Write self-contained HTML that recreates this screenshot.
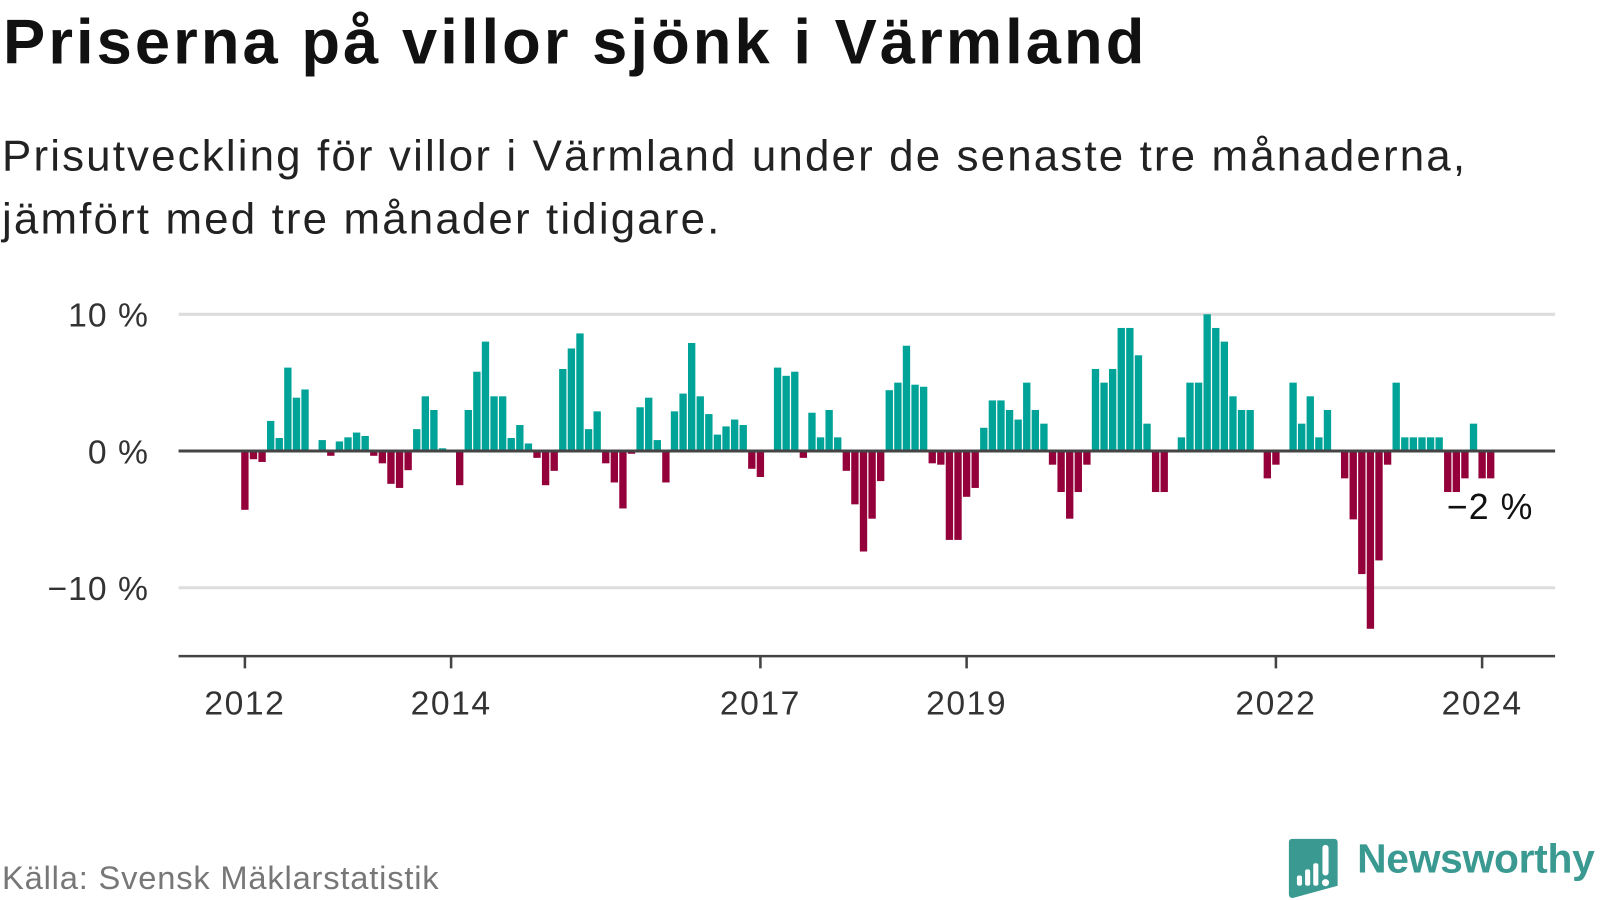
<!DOCTYPE html>
<html><head><meta charset="utf-8"><style>
body{margin:0;width:1600px;height:900px;background:#fff;font-family:"Liberation Sans","DejaVu Sans",sans-serif;overflow:hidden;position:relative}
#wrap{position:absolute;left:0;top:0;width:1568px;height:882px;transform:scale(1.0204);transform-origin:0 0}
#title{position:absolute;left:3px;top:6px;font-size:62px;font-weight:bold;color:#111;letter-spacing:3px;white-space:nowrap}
#sub{position:absolute;left:2px;top:122px;font-size:43px;line-height:62px;color:#222;letter-spacing:2.1px;white-space:nowrap}
#src{position:absolute;left:2px;top:842px;font-size:32px;color:#777;letter-spacing:0.8px;white-space:nowrap}
#logo{position:absolute;left:1330px;top:820px;font-size:40px;font-weight:bold;color:#3a9a92;letter-spacing:-0.3px;white-space:nowrap}
</style></head><body>
<div id="wrap">
<div id="title">Priserna på villor sjönk i Värmland</div>
<div id="sub">Prisutveckling för villor i Värmland under de senaste tre månaderna,<br>jämfört med tre månader tidigare.</div>
<svg id="chart" width="1568" height="882" style="position:absolute;left:0;top:0"></svg>
<div id="src">Källa: Svensk Mäklarstatistik</div>
<svg width="48" height="60" style="position:absolute;left:1263px;top:822px" viewBox="0 0 48 60">
<path d="M4 0H44Q48 0 48 4V46L4 58Q0 58 0 54V4Q0 0 4 0Z" fill="#3a9a92"/>
<rect x="8" y="36" width="5" height="10" rx="2" fill="#fff"/><rect x="16" y="30" width="5" height="16" rx="2" fill="#fff"/><rect x="24" y="24" width="5" height="22" rx="2" fill="#fff"/><rect x="33" y="6" width="6" height="30" rx="3" fill="#fff"/><circle cx="36" cy="43" r="3.5" fill="#fff"/></svg>
<div id="logo">Newsworthy</div>
</div>
<script>
const values=[-4.3,-0.6,-0.8,2.2,0.95,6.1,3.9,4.5,0,0.8,-0.35,0.7,1.0,1.35,1.1,-0.35,-0.9,-2.4,-2.7,-1.4,1.6,4.0,3.0,0.2,0,-2.5,3.0,5.8,8.0,
4.0,4.0,0.95,1.9,0.55,-0.5,-2.5,-1.45,6.0,7.5,8.6,1.6,2.9,-0.9,-2.3,-4.2,-0.2,3.2,3.9,0.8,-2.3,2.9,4.2,7.9,4.0,2.7,1.2,1.8,2.3,1.9,-1.3,-1.9,0,6.1,5.5,5.8,-0.5,2.8,1.0,
3.0,1.0,-1.45,-3.9,-7.35,-4.95,-2.2,4.45,5.0,7.7,4.85,4.7,-0.9,-1.0,-6.5,-6.5,-3.35,-2.7,1.7,3.7,3.7,3.0,2.3,5.0,3.0,2.0,-1.0,-3.0,-4.95,-3.0,-1.0,6.0,5.0,6.0,9.0,9.0,7.0,
2.0,-3.0,-3.0,0,1.0,5.0,5.0,10.0,9.0,8.0,4.0,3.0,3.0,0,-2.0,-1.0,0,5.0,2.0,4.0,1.0,3.0,0,-2.0,-5.0,-9.0,-13.0,-8.0,-1.0,5.0,1.0,1.0,1.0,1.0,1.0,-3.0,-3.0,-2.0,2.0,-2.0,-2.0];
const yTicks=[10,0,-10];
const yTickLabels=["10 %","0 %","\u221210 %"];
const xTickYears=[2012,2014,2017,2019,2022,2024];
const lastLabel="\u22122 %";
const NS="http://www.w3.org/2000/svg";
const svg=document.getElementById('chart');
const x0=240,mw=8.42,startYear=2012;
function xm(m){return x0+m*mw;}
function xy(yr){return xm((yr-startYear)*12);}
function yv(v){return 442-v*13.4;}
function mk(t,a){const e=document.createElementNS(NS,t);for(const k in a)e.setAttribute(k,a[k]);svg.appendChild(e);return e;}
yTicks.forEach((t,i)=>{
 if(t!==0){const g=mk('line',{x1:175,x2:1524,y1:yv(t),y2:yv(t),stroke:'#dddddd','stroke-width':3});
 
 }
 const l=mk('text',{x:146,y:yv(t)+12,'text-anchor':'end','font-size':33,fill:'#333','font-family':'Liberation Sans, sans-serif','letter-spacing':1});
 l.textContent=yTickLabels[i];
 
 
});
values.forEach((v,m)=>{
 if(v===0)return;
 const r=mk('rect',{x:xm(m)-3.6,width:7.2,y:v>0?yv(v):yv(0),height:Math.abs(yv(v)-yv(0)),fill:v>0?'#00a398':'#93003a'});
 
 
});
const z=mk('line',{x1:175,x2:1524,y1:yv(0),y2:yv(0),stroke:'#444','stroke-width':3});


const ax=mk('line',{x1:175,x2:1524,y1:643,y2:643,stroke:'#444','stroke-width':2.5});


xTickYears.forEach(yr=>{
 const t=mk('line',{x1:xy(yr),x2:xy(yr),y1:643,y2:655,stroke:'#444','stroke-width':2.5});
 
 
 const l=mk('text',{x:xy(yr),y:700,'text-anchor':'middle','font-size':33,fill:'#333','font-family':'Liberation Sans, sans-serif','letter-spacing':1.5});
 l.textContent=yr;
 
 
});
const ll=mk('text',{x:1418,y:yv(values[values.length-1])+40,'font-size':35,fill:'#111','font-family':'Liberation Sans, sans-serif','letter-spacing':1});
ll.textContent=lastLabel;


</script>
</body></html>
